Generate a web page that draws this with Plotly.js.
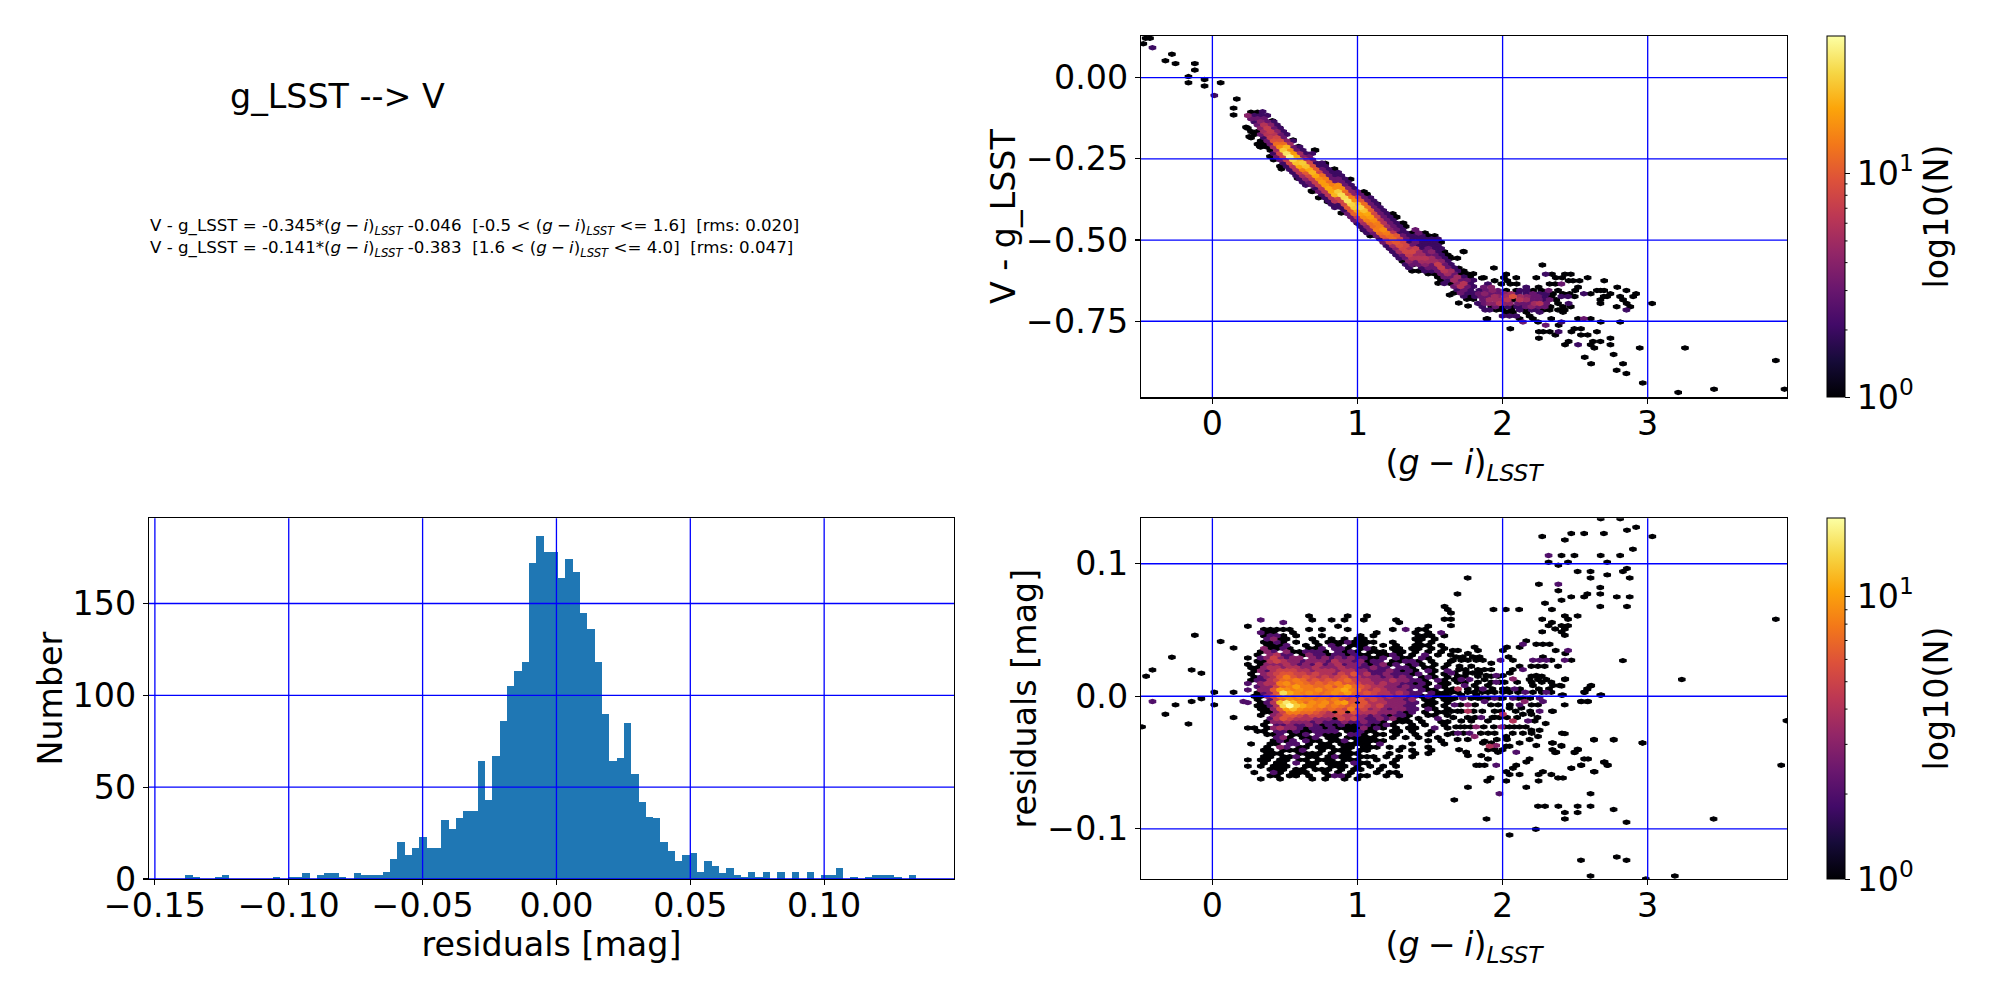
<!DOCTYPE html>
<html>
<head>
<meta charset="utf-8">
<script src="https://cdn.plot.ly/plotly-3.0.1.min.js"></script>
<style>html, body { margin: 0; background: #fff; }</style>
</head>
<body>
<div id="chart" style="width:2000px;height:1000px"></div>
<script>
// g_LSST --> V transformation: residual histogram and two hexbin panels

// residual histogram, 100 bins
const histStart = -0.1386;
const histWidth = 0.00273;
const histCounts = [2,1,0,0,1,2,0,0,0,0,0,0,1,0,1,1,3,0,2,3,3,1,0,3,2,2,2,4,11,20,13,17,23,17,17,32,27,33,37,37,64,43,67,86,105,113,118,172,187,178,178,164,174,167,145,136,118,90,64,66,85,57,42,34,33,20,15,10,13,14,4,10,7,3,6,2,1,4,1,4,0,4,0,4,0,4,0,2,2,6,0,1,0,1,2,2,2,1,0,2];
const histXTicks = [-0.15,-0.10,-0.05,0,0.05,0.10];
const histYTicks = [0,50,100,150];

// V - g_LSST panel: main band, one entry per hex column
const bandX = [0.244,0.266,0.289,0.311,0.333,0.355,0.378,0.40,0.422,0.444,0.466,0.488,0.511,0.533,0.555,0.577,0.60,0.622,0.644,0.666,0.688,0.71,0.733,0.755,0.777,0.80,0.822,0.844,0.866,0.888,0.91,0.932,0.955,0.977,0.999,1.02,1.044,1.066,1.088,1.11,1.132,1.154,1.177,1.199,1.221,1.243,1.266,1.288,1.31,1.332,1.354,1.376,1.399,1.421,1.443,1.465,1.488,1.51,1.532,1.554,1.576,1.598,1.621,1.643,1.665,1.688,1.71,1.732,1.754,1.776,1.798];
const bandY = [
[-0.117,-0.156],[-0.107,-0.127,-0.166,-0.185],[-0.117,-0.136,-0.175],[-0.107,-0.127,-0.146,-0.166,-0.205],
[-0.117,-0.136,-0.156,-0.175,-0.195,-0.214],[-0.127,-0.146,-0.166,-0.185,-0.205],[-0.117,-0.136,-0.156,-0.175,-0.195,-0.214],[-0.146,-0.166,-0.185,-0.205,-0.224],
[-0.136,-0.156,-0.175,-0.195,-0.214,-0.234,-0.253],[-0.146,-0.166,-0.185,-0.205,-0.224,-0.244],[-0.156,-0.175,-0.195,-0.214,-0.234,-0.253,-0.273],[-0.166,-0.185,-0.205,-0.224,-0.244,-0.263],
[-0.175,-0.195,-0.214,-0.234,-0.253,-0.273],[-0.205,-0.224,-0.244,-0.263,-0.283],[-0.195,-0.214,-0.234,-0.253,-0.273,-0.292],[-0.224,-0.244,-0.263,-0.283,-0.302],
[-0.214,-0.234,-0.253,-0.273,-0.292,-0.312],[-0.224,-0.244,-0.263,-0.283,-0.302,-0.322],[-0.234,-0.253,-0.273,-0.292,-0.312,-0.331],[-0.244,-0.263,-0.283,-0.302,-0.322],
[-0.234,-0.253,-0.273,-0.292,-0.312,-0.331,-0.351],[-0.224,-0.263,-0.283,-0.302,-0.322,-0.341],[-0.273,-0.292,-0.312,-0.331,-0.351,-0.37],[-0.263,-0.283,-0.302,-0.322,-0.341,-0.361],
[-0.273,-0.292,-0.312,-0.331,-0.351,-0.37],[-0.283,-0.302,-0.322,-0.341,-0.361,-0.38],[-0.292,-0.312,-0.331,-0.351,-0.37,-0.39],[-0.302,-0.322,-0.341,-0.361,-0.38,-0.40],
[-0.292,-0.312,-0.331,-0.351,-0.37,-0.39],[-0.302,-0.322,-0.341,-0.361,-0.38,-0.40],[-0.312,-0.331,-0.351,-0.37,-0.39,-0.409],[-0.322,-0.341,-0.361,-0.38,-0.40,-0.419],
[-0.331,-0.351,-0.37,-0.39,-0.409,-0.429],[-0.341,-0.361,-0.38,-0.40,-0.419,-0.439],[-0.351,-0.37,-0.39,-0.409,-0.429,-0.448],[-0.361,-0.38,-0.40,-0.419,-0.439,-0.458],
[-0.351,-0.37,-0.39,-0.409,-0.429,-0.448,-0.468],[-0.361,-0.38,-0.40,-0.419,-0.439,-0.458,-0.478],[-0.37,-0.39,-0.409,-0.429,-0.448,-0.468,-0.487],[-0.38,-0.40,-0.419,-0.439,-0.458,-0.478],
[-0.39,-0.409,-0.429,-0.448,-0.468,-0.487],[-0.40,-0.419,-0.439,-0.458,-0.478,-0.497],[-0.409,-0.429,-0.448,-0.468,-0.487,-0.507],[-0.419,-0.439,-0.458,-0.478,-0.497,-0.517],
[-0.429,-0.448,-0.468,-0.487,-0.507,-0.526],[-0.419,-0.439,-0.458,-0.478,-0.497,-0.517,-0.536],[-0.429,-0.448,-0.468,-0.487,-0.507,-0.526,-0.546],[-0.458,-0.478,-0.497,-0.517,-0.536,-0.556],
[-0.448,-0.468,-0.487,-0.507,-0.526,-0.546,-0.565],[-0.458,-0.478,-0.497,-0.517,-0.536,-0.556,-0.575],[-0.487,-0.507,-0.526,-0.546,-0.565,-0.585],[-0.478,-0.497,-0.517,-0.536,-0.556,-0.575,-0.595],
[-0.468,-0.487,-0.507,-0.526,-0.546,-0.565],[-0.478,-0.497,-0.517,-0.536,-0.556,-0.575,-0.595],[-0.487,-0.507,-0.526,-0.546,-0.565,-0.585],[-0.478,-0.497,-0.517,-0.536,-0.556,-0.575,-0.595],
[-0.487,-0.507,-0.526,-0.546,-0.565,-0.585,-0.604],[-0.497,-0.517,-0.536,-0.556,-0.575,-0.595],[-0.487,-0.507,-0.526,-0.546,-0.565,-0.585,-0.604],[-0.497,-0.517,-0.536,-0.556,-0.575,-0.595,-0.614],
[-0.507,-0.526,-0.546,-0.565,-0.585,-0.604,-0.624],[-0.536,-0.556,-0.575,-0.595,-0.614,-0.634],[-0.546,-0.565,-0.585,-0.604,-0.624],[-0.556,-0.575,-0.595,-0.614,-0.634],
[-0.585,-0.604,-0.624,-0.643,-0.663],[-0.556,-0.595,-0.614,-0.634,-0.653],[-0.604,-0.624,-0.643,-0.663],[-0.536,-0.595,-0.614,-0.634,-0.653,-0.673],
[-0.604,-0.624,-0.643,-0.663,-0.682],[-0.614,-0.634,-0.653,-0.673],[-0.604,-0.624,-0.643,-0.663,-0.682]];
const bandN = [
[4,1],[1,3,1,1],[2,2,1],[1,3,3,1,1],
[2,4,4,3,1,1],[3,6,5,2,1],[2,3,7,6,3,1],[4,7,7,3,1],
[2,3,6,9,5,2,1],[2,4,8,12,5,3],[2,3,9,16,8,3,1],[2,3,12,26,8,2],
[2,4,22,32,7,2],[5,16,38,8,2],[2,3,18,28,6,2],[3,20,24,6,2],
[2,5,22,20,6,2],[2,4,26,14,5,2],[2,6,24,10,4,2],[3,8,20,8,3],
[2,3,9,22,7,3,1],[1,2,10,20,7,2],[2,8,16,7,3,1],[2,3,12,18,6,2],
[2,3,14,18,6,2],[2,3,12,20,6,2],[2,3,14,20,6,2],[2,3,16,22,6,2],
[2,3,16,26,8,2],[2,3,16,30,8,2],[2,3,12,30,8,2],[2,4,10,32,10,3],
[2,4,14,28,10,3],[2,4,16,26,11,3],[3,8,24,20,7,2],[3,10,28,18,6,2],
[1,3,12,24,16,5,2],[1,3,12,20,14,4,2],[2,3,10,18,12,4,1],[2,3,8,16,12,3],
[2,3,8,14,14,3],[2,3,6,14,12,2],[2,3,6,16,10,3],[2,3,5,14,8,2],
[2,3,4,12,8,2],[1,2,3,6,12,5,2],[1,2,3,10,10,4,2],[2,2,8,9,5,2],
[1,2,3,8,8,3,1],[1,2,3,8,8,3,2],[2,2,6,7,4,2],[1,2,3,8,6,3,1],
[3,2,3,7,5,3],[3,2,2,5,6,3,1],[2,2,2,5,5,2],[1,2,2,3,6,4,2],
[1,2,3,3,5,3,1],[2,2,4,5,3,2],[1,2,2,3,5,3,1],[2,2,2,3,7,3,1],
[1,2,2,4,7,3,1],[1,2,3,6,3,2],[1,2,3,5,2],[1,2,5,3,1],
[2,3,5,3,1],[1,2,5,4,2],[1,3,6,3],[1,1,2,6,3,2],
[1,3,3,2,1],[1,2,2,1],[1,2,2,2,1]];

// V - g_LSST panel: fan at the red end, one entry per hex row
const fanY = [-0.577,-0.586,-0.605,-0.616,-0.625,-0.635,-0.645,-0.655,-0.665,-0.674,-0.684,-0.695,-0.705,-0.715,-0.722,-0.734,-0.742,-0.752,-0.762,-0.773,-0.782,-0.792,-0.802,-0.812,-0.822,-0.832,-0.852,-0.861,-0.871,-0.881,-0.901,-0.911,-0.94,-0.959,-0.969];
const fanX = [
[2.274],[1.94],[2.025,2.297,2.34,2.43,2.47],[1.871,2.009,2.094,2.232,2.366,2.41,2.586],[1.945,2.032,2.455,2.485,2.53,2.70],
[1.899,1.991,2.053,2.097,2.324,2.363,2.405],[1.871,1.922,2.163,2.248,2.52,2.79],[1.968,2.025,2.094,2.267,2.317,2.382,2.5,2.65,2.676,2.70,2.853,1.84,1.885,1.93,2.12,2.165,2.21],
[1.876,1.922,2.014,2.163,2.209,2.347,2.416,2.462,2.56,2.607,2.743,2.92,1.835,1.97,2.06,2.11,2.255,2.3],[1.853,1.899,1.968,2.025,2.071,2.244,2.29,2.338,2.405,2.451,2.497,2.697,2.72,2.81,2.9,1.81,1.945,2.12,2.165,2.21],
[1.91,1.955,2.07,2.117,2.163,2.209,2.324,2.674,2.83,1.865,2.0,2.035,2.25,2.29,2.37],[1.876,1.945,2.014,2.106,2.186,2.255,2.301,2.382,2.455,2.674,2.855,3.03,1.83,1.91,1.98,2.05,2.15,2.22],
[1.922,1.991,2.071,2.129,2.198,2.29,2.416,2.47,2.786,2.88,1.86,1.95,2.035,2.1,2.16,2.25,2.33],[1.91,1.956,2.06,2.117,2.232,2.324,2.382,2.428,2.853,1.88,2.0,2.16,2.2,2.28],[2.025,2.071,2.163,2.255,2.416],
[2.0,2.048,2.094,2.186],[1.895,2.117,2.209,2.335,2.52,2.56,2.607],[2.14,2.244,2.405,2.676,2.81],[2.297,2.386],[2.053,2.495,2.54],
[2.25,2.28,2.325,2.386,2.474,2.65],[2.363,2.54,2.586],[2.25,2.743],[2.455,2.623,2.674],[2.43,2.52,2.607,2.743],[2.632,2.945,3.257],
[2.765],[2.566],[3.883],[2.61,2.83],[2.786],[2.853],[2.966],[3.457,3.943],[3.21]];
const fanN = [
[1],[1],[1,2,1,1,1],[1,1,1,1,1,1,1],[1,1,1,1,1,1],
[2,1,1,1,1,1,3],[3,4,2,1,1,1],[3,1,1,1,3,1,1,1,1,1,1,2,3,4,2,2,1],
[4,3,4,2,3,1,1,1,2,1,1,1,3,3,5,2,2,2],[3,3,4,5,9,3,2,1,2,2,1,1,1,1,1,2,5,5,4,3],
[5,5,1,6,5,3,3,1,1,3,5,6,3,2,1],[3,4,4,3,3,6,3,1,2,1,1,1,2,4,6,4,3,5],
[1,1,1,2,4,3,1,1,1,1,2,3,2,2,3,3,1],[2,1,1,2,2,1,1,1,2,2,1,1,2,1],[1,1,1,2,1],
[2,2,2,1],[1,1,1,1,1,3,1],[3,1,2,1,1],[3,1],[1,1,1],
[1,1,1,2,1,1],[1,1,1],[1,1],[1,1,1],[1,2,1,1],[1,1,1],
[1],[1],[1],[1,1],[1],[1],[1],[1,1],[1]];

// V - g_LSST panel: blue-end stragglers and the loose hexes along both edges of the band
const strayX = [-0.476,-0.46,-0.43,-0.413,-0.324,-0.279,-0.254,-0.121,-0.121,-0.165,-0.165,-0.054,-0.054,0.057,0.013,0.168,0.146,0.146,0.232,0.254,0.327,0.397,0.476,0.587,0.683,0.794,0.889,1.0,1.041,1.127,1.222,1.27,1.381,1.476,1.556,1.635,1.698,1.762,1.889,0.346,0.413,0.46,0.556,0.594,0.705,0.778,0.841,0.952,1.063,1.137,1.206,1.27,1.317,1.381,1.467,1.524,1.635,1.73,1.698,1.857];
const strayY = [0.104,0.121,0.121,0.092,0.052,0.072,0.043,0.043,0.023,0.003,-0.016,-0.006,-0.026,-0.016,-0.055,-0.066,-0.094,-0.115,-0.153,-0.182,-0.212,-0.243,-0.281,-0.31,-0.349,-0.382,-0.417,-0.448,-0.469,-0.487,-0.525,-0.545,-0.576,-0.597,-0.633,-0.669,-0.694,-0.703,-0.743,-0.105,-0.133,-0.154,-0.192,-0.212,-0.223,-0.264,-0.281,-0.313,-0.358,-0.389,-0.42,-0.43,-0.448,-0.489,-0.497,-0.52,-0.551,-0.535,-0.587,-0.617];
const strayN = [1,1,1,2,1,1,1,1,1,1,1,1,1,1,2,1,1,1,1,1,1,1,1,1,1,1,1,1,1,1,1,1,1,1,1,1,1,1,1,2,1,1,1,1,1,1,1,1,1,1,1,1,1,1,1,1,1,1,1,1];

// residuals panel: main body, one entry per hex row, counts per cell (0 = empty)
const bodyY = [0.0606,0.0576,0.0556,0.0528,0.0504,0.048,0.0456,0.0432,0.0408,0.0384,0.036,0.0336,0.0312,0.0288,0.0264,0.024,0.0216,0.0192,0.0168,0.0144,0.012,0.0096,0.0072,0.0048,0.0024,0,-0.0024,-0.0048,-0.0072,-0.0096,-0.012,-0.0144,-0.0168,-0.0192,-0.0216,-0.024,-0.0264,-0.0288,-0.0312,-0.0336,-0.036,-0.0384,-0.0408,-0.0432,-0.0456,-0.048,-0.0504,-0.0528,-0.0552,-0.0576,-0.06,-0.0624];
const bodyX0 = [0.222,0.2,0.222,0.2,0.222,0.2,0.222,0.2,0.222,0.2,0.222,0.2,0.222,0.2,0.222,0.2,0.222,0.2,0.222,0.2,0.222,0.2,0.222,0.2,0.222,0.2,0.222,0.2,0.222,0.2,0.222,0.2,0.222,0.2,0.222,0.2,0.222,0.2,0.222,0.2,0.222,0.2,0.222,0.2,0.222,0.2,0.222,0.2,0.222,0.2,0.222,0.2];
const bodyN = [
[0,0,0,0,0,0,0,0,0,0,1,0,0,0,0,0,1,0,0,1],
[0,0,0,2,0,0,0,0,0,0,0,1,0,0,1,0,1,0,0,1,0,0,0,0,1],
[0,0,0,0,0,0,2,0,0,0,0,0,0,0,0,0,0,0,0,0,0,0,0,0,1],
[0,1,0,0,0,0,0,0,0,0,0,0,0,0,0,1,0,0,0,0,0,0,0,0,0,0,0,0,0,1],
[0,0,0,1,1,1,1,1,0,0,1,0,1,0,0,0,1,0,0,0,0,0,0,1,0,2,0,1,1],
[0,0,0,2,1,1,0,0,1,0,0,0,0,0,0,0,0,0,0,0,0,1,0,0,0,0,0,1,0,1,0,2],
[0,0,0,1,2,2,1,0,1,0,0,0,1,0,0,0,0,0,1,0,1,0,0,0,0,0,0,1,1,1,0,1],
[0,0,0,0,2,3,1,1,0,0,0,1,0,0,1,0,1,0,1,1,0,0,0,0,0,0,0,1,1,0,1],
[0,0,0,1,1,2,1,0,1,0,0,1,0,1,1,1,2,1,1,1,1,0,0,1,0,0,0,1,0,1],
[0,0,0,0,1,1,1,2,0,0,1,0,1,0,2,1,0,1,1,1,0,0,1,0,1,0,0,1,1,1,0,1],
[0,0,0,3,1,1,2,1,0,0,1,1,2,0,2,2,1,0,1,2,1,0,0,1,1,0,1,1,0,1,0,1],
[0,0,0,1,3,2,0,3,1,1,2,2,2,1,0,2,1,2,1,0,1,1,1,0,1,1,0,1,0,1,0,1],
[0,0,1,0,3,4,2,2,0,1,3,2,2,1,2,2,1,2,1,1,0,1,1,2,1,0,1,0,2,0,1,0,1],
[0,1,0,2,3,5,3,2,3,3,0,3,2,3,2,3,2,3,2,2,1,1,2,0,2,1,1,0,2,1,0,0,0],
[0,0,1,1,4,5,4,3,3,2,3,3,3,2,4,3,3,2,3,1,2,2,0,1,1,2,2,1,0,1,0,0,1],
[0,1,0,1,3,3,3,4,3,2,3,2,4,2,3,4,2,3,3,2,1,2,3,1,2,0,1,2,1,0,1,0,1],
[0,1,1,3,4,4,3,4,4,3,3,4,3,3,3,4,3,3,2,2,3,2,2,0,2,2,1,0,1,1,0,1,0],
[0,0,1,3,2,4,5,5,5,4,4,3,4,4,4,3,4,4,3,3,2,2,2,3,2,1,2,1,0,2,1,0,2],
[0,1,0,3,4,5,6,6,5,5,4,5,4,4,3,5,4,6,3,4,2,2,3,2,2,2,1,2,0,1,0,1,0],
[0,0,1,2,3,4,6,8,6,5,6,5,4,5,4,5,6,4,4,3,3,3,2,3,2,3,2,0,1,2,1,0,1],
[0,1,2,2,4,5,7,7,8,7,5,6,5,6,5,6,7,5,4,4,3,3,3,4,3,3,2,2,1,0,2,1,0],
[0,2,0,3,4,4,8,9,7,8,7,6,7,6,7,8,6,6,5,4,4,3,4,3,3,2,2,1,2,1,0,1,1],
[0,0,2,3,3,5,7,8,10,8,8,7,7,8,6,8,10,7,6,5,4,4,3,3,2,3,2,2,1,0,2,1,0],
[0,2,0,3,3,6,10,9,8,9,8,8,9,7,8,9,11,8,7,5,4,5,4,3,3,3,2,0,2,1,1,0,1],
[0,0,1,2,3,6,15,11,9,8,9,8,7,8,9,8,10,7,5,6,5,4,4,3,4,3,2,2,0,2,1,1,0],
[0,0,1,1,3,5,8,9,8,9,7,8,7,8,6,7,6,5,1,5,5,4,3,4,3,3,2,2,1,2,1,1,1],
[0,0,1,0,2,5,7,9,8,8,8,7,8,7,8,6,5,6,6,4,5,4,3,3,3,2,3,0,1,1,0,1,1],
[0,2,0,1,2,4,12,16,12,9,7,9,8,9,7,9,10,6,1,6,4,4,4,3,3,3,2,2,0,1,1,0,1],
[0,0,1,1,2,4,14,19,13,11,9,8,9,7,8,7,6,7,6,5,4,5,3,3,3,2,2,0,1,1,0,1,0],
[0,0,0,1,1,3,6,10,12,9,8,8,7,6,7,6,5,8,4,5,3,4,3,2,3,3,2,2,0,2,1,0,1],
[0,0,0,1,1,3,5,8,8,7,7,6,5,4,1,6,1,6,4,4,4,3,3,3,2,1,2,0,1,0,1,1,0],
[0,0,0,1,0,3,4,6,6,5,4,5,5,4,4,5,4,4,3,3,2,3,2,1,2,2,1,0,0,1,1,0,1],
[0,0,0,0,2,4,6,5,4,4,4,3,3,3,1,5,4,5,3,2,2,3,2,3,1,1,0,1,0,0,2,0,0],
[0,0,0,0,1,3,3,4,3,3,3,2,3,2,2,2,3,2,2,3,2,2,1,0,1,1,1,0,1,0,0,1,1],
[0,0,0,1,0,2,2,3,2,2,3,2,1,2,1,2,1,1,2,2,1,1,2,1,0,0,1,0,1,0,0,1,0],
[0,1,1,0,1,3,4,3,3,2,1,2,2,1,2,1,1,1,1,3,1,2,1,0,1,0,1,1,0,0,2,0,1],
[0,0,1,1,0,2,2,1,2,1,1,2,2,2,2,0,1,1,2,1,1,0,0,1,1,0,1,0,0,1,0,0,0],
[0,0,0,0,1,1,2,0,1,1,2,0,2,1,1,1,0,2,2,1,0,1,1,0,1,0,0,1,0,1,0,0,1],
[0,0,0,0,0,2,3,1,0,1,1,2,0,1,1,0,1,1,1,1,1,0,0,1,0,1,0,1,0,0,1,0,0],
[0,0,0,0,0,1,2,1,2,0,2,1,1,0,1,1,2,0,1,1,1,1,1,0,0,0,0,0,0,1,0,1],
[0,1,0,0,1,1,0,2,2,0,1,0,1,1,0,1,1,1,1,1,0,2,0,0,0,0,1,0,0,0,0,1],
[0,0,0,0,1,0,3,2,0,1,1,0,1,1,1,0,1,1,0,1,1,1,0,1,0,1,0,0,0,1],
[0,0,0,1,1,0,1,1,1,2,0,0,1,0,1,1,1,0,1,1,0,0,0,0,1,0,1,0,0,1],
[0,0,0,0,1,1,1,0,0,1,1,1,1,0,1,0,1,1,1,0,0,0,0,1,0,0,0,1,0,1],
[0,0,0,1,1,0,1,1,2,0,1,1,0,1,2,1,1,0,1,1,1,0,1,0,1,0,1],
[0,1,0,1,1,0,1,1,0,1,1,0,1,1,1,0,1,1,1,0,0,1,0,0,1],
[0,0,0,1,0,1,1,0,2,0,1,1,0,1,1,1,0,2,1,1,0,0,0,1],
[0,1,0,1,0,1,1,1,0,0,1,1,0,0,1,1,1,0,1,0,1,0,1,0,1],
[0,0,0,0,1,1,1,0,1,1,0,1,1,1,0,1,0,1,1,0,0,1],
[0,0,1,0,0,2,1,0,1,1,1,0,0,1,0,1,0,1,0,0,0,1,0,1,1],
[0,0,0,0,1,1,0,1,1,0,1,0,0,1,2,2,1,0,1,1,0,0,1,0,1],
[0,0,0,1,0,0,1,0,0,0,0,1,0,1,0,0,1,0,1]];

// residuals panel: hexes between g-i 1.65 and 3 around the zero line
const midX = [2.232,2.278,2.324,2.163,2.14,
1.83,1.692,1.807,1.657,2.002,2.03,2.117,2.366,2.451,2.432,
1.761,1.68,1.726,1.795,1.841,2.041,2.278,2.071,1.986,
1.657,1.715,1.761,1.818,1.864,1.922,2.209,2.255,2.301,2.336,2.428,2.474,
1.703,1.784,1.922,2.117,2.198,2.244,2.29,2.382,2.14,
1.646,1.692,1.749,1.795,1.887,1.922,1.956,2.002,2.198,2.232,
1.669,1.715,1.772,1.876,1.956,1.922,2.014,2.071,2.186,2.244,2.301,2.336,2.432,
1.692,1.738,1.807,1.864,1.899,2.002,2.083,2.156,2.209,2.301,2.347,2.393,2.611,2.584,2.566,
1.646,1.807,1.899,1.945,2.002,2.048,2.106,2.209,2.336,1.715,1.818,
1.726,1.784,1.853,1.945,2.002,2.071,2.14,2.255,2.416,2.68,
1.669,1.761,1.876,2.152,2.117,2.278,2.244,2.543,2.589,2.428,
1.646,1.761,1.715,1.945,2.048,2.129,2.255,2.347,2.002,1.945,2.14,2.198,
1.715,1.853,1.979,1.899,2.071,2.175,2.221,2.048,2.297,1.784,
1.68,1.818,1.738,2.014,2.117,1.991,2.255,2.198,
1.692,1.772,1.807,1.945,2.025,2.409,2.244,2.186,2.117,1.876,
1.922,1.956,1.91,1.864,2.232,2.048,2.347,2.405,2.63,2.766,2.963,2.52,2.497,2.343,2.37,
2.094,1.945,1.749,1.761,1.853,1.968,1.899,2.025,
2.186,2.163,2.589,2.543,2.474,2.703,2.726,2.634,1.956,1.841,1.818,1.876,
2.094,2.071,2.117,2.025,2.048,
2.278,2.248,2.336,2.382,2.416,2.248,2.025,1.917,1.894,1.761,2.163];
const midY = [0.0392,0.0392,0.0392,0.0418,0.0392,
0.0345,0.0345,0.037,0.0345,0.0345,0.037,0.037,0.0345,0.0345,0.0322,
0.0322,0.0297,0.0297,0.0297,0.0297,0.0297,0.0297,0.0272,0.0272,
0.0272,0.0272,0.0272,0.0272,0.0272,0.0249,0.0272,0.0272,0.0272,0.0272,0.0272,0.0272,
0.0226,0.0226,0.0201,0.0226,0.0226,0.0226,0.0226,0.0226,0.0201,
0.0176,0.0151,0.0176,0.0176,0.0156,0.0151,0.0156,0.0156,0.0151,0.0156,
0.0126,0.0126,0.0126,0.0126,0.0106,0.0106,0.0106,0.0131,0.0126,0.0126,0.0126,0.0106,0.0131,
0.0055,0.0081,0.0081,0.0055,0.0081,0.0055,0.0055,0.003,0.0081,0.003,0.0081,0.0081,0.0081,0.0055,0.003,
0.003,0.003,0.003,0.003,0.003,0.003,0.003,0.003,0.003,0.001,0.001,
-0.0015,-0.0015,-0.0015,-0.0015,-0.0015,-0.0015,-0.0015,-0.0015,0.001,0.001,
-0.0065,-0.0065,-0.004,-0.004,-0.0065,-0.004,-0.0065,-0.004,-0.004,-0.0065,
-0.0113,-0.0113,-0.0113,-0.0113,-0.0088,-0.0088,-0.0113,-0.0113,-0.0136,-0.0158,-0.0136,-0.0136,
-0.0186,-0.0161,-0.0161,-0.0186,-0.0186,-0.0186,-0.0186,-0.0231,-0.0206,-0.0186,
-0.0231,-0.0231,-0.0231,-0.0231,-0.0231,-0.0231,-0.0257,-0.0257,
-0.0279,-0.0279,-0.0304,-0.0279,-0.0304,-0.0279,-0.0304,-0.0327,-0.0352,-0.034,
-0.0352,-0.0372,-0.0377,-0.0352,-0.0372,-0.0377,-0.0352,-0.0372,-0.0327,-0.0327,-0.0352,-0.0403,-0.0423,-0.0403,-0.0423,
-0.0423,-0.0403,-0.0423,-0.0448,-0.0448,-0.0423,-0.0473,-0.0377,
-0.0473,-0.0496,-0.0473,-0.0521,-0.0543,-0.0496,-0.0521,-0.0569,-0.0521,-0.0521,-0.0521,-0.0521,
-0.0521,-0.0543,-0.0591,-0.0569,-0.0591,
-0.0569,-0.0591,-0.0591,-0.0616,-0.0616,-0.0639,-0.0639,-0.0616,-0.0639,-0.0687,-0.0687];
const midN = [1,1,1,1,2,
1,1,1,1,1,1,1,1,2,1,
1,1,1,1,1,1,1,1,2,
1,1,1,1,1,1,2,2,2,1,2,1,
1,1,1,1,1,1,1,1,2,
2,1,1,1,1,1,2,1,1,1,
1,2,2,1,2,1,1,3,1,1,1,1,1,
4,2,1,2,1,1,2,2,1,2,1,1,1,1,1,
1,1,1,1,1,1,1,1,1,1,1,
2,1,1,2,1,2,1,2,1,1,
2,3,2,3,2,2,1,1,1,1,
1,4,1,1,1,1,2,1,4,1,1,1,
1,2,1,1,4,2,1,1,1,1,
1,3,1,1,1,3,1,1,
2,2,3,1,1,1,1,1,1,1,
1,3,4,1,1,1,1,1,1,1,1,1,1,1,1,
2,1,1,1,1,1,1,1,
1,1,1,1,1,1,1,1,2,1,1,1,
1,1,1,1,1,
1,1,1,1,1,1,1,1,1,1,1];

// residuals panel: single-count hexes filling the same region, one entry per hex row
const sparseY = [0.0201,0.0176,0.0151,0.0106,0.0055,0.003,-0.0015,-0.0065,-0.0113,-0.0161,-0.0231,-0.0279,-0.0327,-0.0403];
const sparseX = [
[1.70,1.745,1.83,1.875,2.07],[1.67,1.84,2.05],[1.74,1.83,1.97,2.27],[1.69,1.74,1.83,1.98,2.1,2.2,2.27],
[1.66,1.76,1.83,1.93,2.03,2.12,2.25,2.32],[1.69,1.76,1.86,2.27],[1.67,1.83,1.9,1.98,2.11,2.19],[1.71,1.81,1.92,1.97,2.05,2.2],
[1.69,1.8,1.86,1.99,2.09,2.19],[1.66,1.76,1.81,1.93,2.03,2.1,2.24],[1.71,1.78,1.87,1.94,2.08,2.16],[1.66,1.73,1.85,1.9,2.07,2.14,2.2],
[1.69,1.76,1.96,2.03],[1.7,1.9,2.0]];

// residuals panel: everything further out
const outX = [2.92,2.676,2.81,2.273,2.429,2.473,2.562,2.698,2.857,3.032,2.898,2.317,2.406,2.495,2.676,2.81,2.317,2.451,2.384,2.721,2.517,2.606,2.829,2.857,2.606,2.721,2.876,1.759,1.689,2.25,2.384,2.384,2.673,2.406,2.473,2.562,2.584,2.673,2.787,2.876,2.292,2.673,2.857,2.34,1.937,2.022,2.114,1.6,1.622,1.644,2.517,2.429,2.451,2.273,2.34,2.406,2.451,2.317,2.362,2.429,2.273,2.406,2.429,1.644,1.6,1.644,3.883,2.829,3.235,-0.121,0.057,0.146,-0.279,-0.413,-0.457,-0.143,-0.076,0.013,0.146,-0.413,-0.254,-0.143,-0.076,0.013,-0.324,-0.165,0.146,-0.485,0.213,1.667,1.889,2.048,2.229,1.978,2.244,2.292,2.384,2.517,2.606,2.429,2.517,2.429,2.765,2.854,3.454,2.606,2.54,2.787,2.854,2.606,3.187,2.987,3.92,3.956,2.965,2.629,2.765,2.562,2.54,2.473,2.629,2.698,2.721,2.517,2.495,2.406,2.34,2.362,2.429,2.34,2.54,2.584,2.562,2.584,2.606,2.673,2.406,2.429,2.406];
const outY = [0.1275,0.134,0.134,0.1205,0.118,0.1228,0.1228,0.1228,0.1253,0.1205,0.111,0.1062,0.1062,0.1062,0.1062,0.1062,0.1011,0.1011,0.0989,0.1011,0.0941,0.0941,0.0941,0.0964,0.0893,0.0916,0.0893,0.0893,0.0772,0.0845,0.0845,0.0797,0.082,0.0725,0.075,0.075,0.0772,0.0772,0.075,0.075,0.0702,0.0677,0.0677,0.0654,0.0654,0.0654,0.0654,0.0677,0.0654,0.0629,0.0606,0.0606,0.0581,0.0581,0.0556,0.0533,0.0533,0.0533,0.0508,0.0508,0.0486,0.0486,0.046,0.0533,0.0581,0.0581,0.0581,0.0269,0.0126,0.046,0.0413,0.0365,0.0294,0.0199,0.0151,0.0199,0.0174,0.003,0.003,-0.004,-0.0065,-0.004,-0.0018,-0.0065,-0.0136,-0.0209,-0.0161,-0.0231,-0.004,-0.0782,-0.0926,-0.1047,-0.1004,-0.0735,-0.083,-0.083,-0.083,-0.083,-0.083,-0.0878,-0.0878,-0.0926,-0.0855,-0.0951,-0.0926,-0.0735,-0.1238,-0.1213,-0.1238,-0.1356,-0.1356,-0.1379,-0.0521,-0.0184,-0.0352,-0.033,-0.033,-0.0473,-0.0521,-0.0543,-0.0569,-0.0498,-0.0521,-0.04,-0.0425,-0.0377,-0.0352,-0.0425,-0.0282,-0.0113,-0.004,-0.004,0.003,0.0055,0.0078,0.0008,0.0008,0.0126,0.0078];
const outN = [1,1,1,1,1,1,1,1,1,1,1,2,1,1,1,1,1,1,1,1,1,1,1,1,1,1,1,1,1,1,2,1,1,1,1,1,1,1,1,1,1,1,1,1,1,1,1,1,1,1,1,1,1,1,1,1,1,1,1,1,1,1,1,1,1,1,1,1,1,1,1,1,1,1,1,1,1,1,1,2,1,1,1,1,1,1,1,1,2,1,1,1,1,2,1,1,1,1,1,1,1,1,1,1,1,1,1,1,1,1,1,1,1,1,1,1,1,1,1,1,1,1,1,1,1,1,1,1,1,1,1,1,1,1,1,1,1,1,1];

const panelXTicks = [0,1,2,3];
const topYTicks = [0,-0.25,-0.5,-0.75];
const resYTicks = [0.1,0,-0.1];
const cbMajorVals = [0,1];
const cbMajorText = ['10<sup>0</sup>','10<sup>1</sup>'];
const cbMinorVals = [0.301,0.477,0.602,0.699,0.778,0.845,0.903,0.954];

const inferno = [[0,'#000004'],[0.1,'#160b39'],[0.2,'#420a68'],[0.3,'#6a176e'],[0.4,'#932667'],[0.5,'#bc3754'],[0.6,'#dd513a'],[0.7,'#f37819'],[0.8,'#fca50a'],[0.9,'#f6d746'],[1,'#fcffa4']];

const FONT = 'DejaVu Sans, sans-serif';
const BIG = 33.3;
const GI = '(<i>g\u2005−\u2005i</i>)<sub><i>LSST</i></sub>';
const BLUE = '#0000ff';
const CB_LEFT = 1826.5, CB_WIDTH = 18;

function inLog(t) {
    const i = Math.min(Math.floor(t * 10), 9);
    const f = t * 10 - i;
    const a = inferno[i][1], b = inferno[i + 1][1];
    const ch = k => Math.round(parseInt(a.substr(k, 2), 16) * (1 - f) + parseInt(b.substr(k, 2), 16) * f);
    return `rgb(${ch(1)},${ch(3)},${ch(5)})`;
}

// matplotlib hexes are stretched with the axes, so draw them as filled polygons, one trace per count
function hexTraces(cells, sx, sy, logMax, xa, ya, top, bottom) {
    const levels = {};
    cells.forEach(c => { (levels[c.n] = levels[c.n] || []).push(c); });
    const traces = Object.keys(levels).map(Number).sort((a, b) => a - b).map(n => {
        const xs = [], ys = [];
        levels[n].forEach(c => {
            xs.push(c.x - sx / 2, c.x - sx / 2, c.x, c.x + sx / 2, c.x + sx / 2, c.x, c.x - sx / 2, null);
            ys.push(c.y - sy / 6, c.y + sy / 6, c.y + sy / 3, c.y + sy / 6, c.y - sy / 6, c.y - sy / 3, c.y - sy / 6, null);
        });
        const col = inLog(Math.min(Math.log10(n) / logMax, 1));
        return { x: xs, y: ys, xaxis: xa, yaxis: ya, mode: 'lines', fill: 'toself', fillcolor: col,
                 line: { color: col, width: 1.2 }, hoverinfo: 'skip', showlegend: false };
    });
    // invisible markers carry the colorbar
    traces.push({
        x: cells.map(c => c.x), y: cells.map(c => c.y), xaxis: xa, yaxis: ya, mode: 'markers', showlegend: false, hoverinfo: 'skip',
        marker: {
            size: 1, opacity: 0, color: cells.map(c => Math.log10(c.n)), colorscale: inferno, cmin: 0, cmax: logMax, showscale: true,
            colorbar: {
                x: CB_LEFT / 2000, xanchor: 'left', xpad: 0, y: 1 - bottom / 1000, yanchor: 'bottom', ypad: 0, len: (bottom - top) / 1000, thickness: CB_WIDTH,
                outlinewidth: 1, outlinecolor: '#000', ticks: 'outside', ticklen: 5, tickwidth: 1, tickcolor: '#000',
                tickmode: 'array', tickvals: cbMajorVals, ticktext: cbMajorText, tickfont: { family: FONT, size: BIG, color: '#000' }
            }
        }
    });
    return traces;
}

// colorbars have no minor ticks of their own
function minorTicks(logMax, top, bottom) {
    const right = (CB_LEFT + CB_WIDTH) / 2000;
    return cbMinorVals.map(v => {
        const y = (1000 - bottom + (bottom - top) * v / logMax) / 1000;
        return { type: 'line', layer: 'above', xref: 'paper', yref: 'paper', x0: right, x1: right + 3 / 2000, y0: y, y1: y, line: { color: '#000', width: 1 } };
    });
}

const topCells = [];
bandX.forEach((x, i) => bandY[i].forEach((y, j) => topCells.push({ x, y, n: bandN[i][j] })));
fanY.forEach((y, i) => fanX[i].forEach((x, j) => topCells.push({ x, y, n: fanN[i][j] })));
strayX.forEach((x, i) => topCells.push({ x, y: strayY[i], n: strayN[i] }));

const resCells = [];
bodyY.forEach((y, i) => bodyN[i].forEach((n, j) => { if (n > 0) resCells.push({ x: bodyX0[i] + j * 0.0444, y, n }); }));
sparseY.forEach((y, i) => sparseX[i].forEach(x => resCells.push({ x, y, n: 1 })));
midX.forEach((x, i) => resCells.push({ x, y: midY[i], n: midN[i] }));
outX.forEach((x, i) => resCells.push({ x, y: outY[i], n: outN[i] }));

const traces = [{
    type: 'bar', x0: histStart + histWidth / 2, dx: histWidth, y: histCounts, width: histWidth,
    marker: { color: '#1f77b4', line: { width: 0 } }, xaxis: 'x', yaxis: 'y', hoverinfo: 'x+y', showlegend: false
}].concat(
    hexTraces(topCells, 0.0444, 0.0195, 1.615, 'x2', 'y2', 36, 397.3),
    hexTraces(resCells, 0.0444, 0.00477, 1.278, 'x3', 'y3', 518.3, 879)
);

function axis(extra) {
    return Object.assign({
        showline: true, mirror: true, linecolor: '#000', linewidth: 1.2, showgrid: false, zeroline: false,
        ticks: 'outside', ticklen: 5, tickwidth: 1.2, tickcolor: '#000', tickmode: 'array',
        tickfont: { family: FONT, size: BIG, color: '#000' }
    }, extra);
}
function axisTitle(text, standoff) {
    return { text, standoff, font: { family: FONT, size: BIG, color: '#000' } };
}

// blue grid sits above the marks in the reference, so it goes in as shapes
function gridShapes(xa, ya, xTicks, yTicks) {
    const line = { color: BLUE, width: 1.3 };
    return xTicks.map(v => ({ type: 'line', layer: 'above', xref: xa, yref: ya + ' domain', x0: v, x1: v, y0: 0, y1: 1, line }))
        .concat(yTicks.map(v => ({ type: 'line', layer: 'above', xref: xa + ' domain', yref: ya, x0: 0, x1: 1, y0: v, y1: v, line })));
}

const dom = (a, b) => [a / 2000, b / 2000];
const domY = (top, bottom) => [1 - bottom / 1000, 1 - top / 1000];
const note = (x, y, text, size, extra) => Object.assign({ xref: 'paper', yref: 'paper', x: x / 2000, y: 1 - y / 1000, xanchor: 'left', yanchor: 'middle', showarrow: false, text, font: { family: FONT, size, color: '#000' } }, extra);

const eqLines = [
    `V - g_LSST = -0.345*${GI} -0.046\u00a0\u00a0[-0.5 &lt; ${GI} &lt;= 1.6]\u00a0\u00a0[rms: 0.020]`,
    `V - g_LSST = -0.141*${GI} -0.383\u00a0\u00a0[1.6 &lt; ${GI} &lt;= 4.0]\u00a0\u00a0[rms: 0.047]`
];

const layout = {
    width: 2000, height: 1000, margin: { l: 0, r: 0, t: 0, b: 0 }, paper_bgcolor: '#fff', plot_bgcolor: '#fff',
    font: { family: FONT, color: '#000' }, bargap: 0, hovermode: 'closest', showlegend: false,
    xaxis: axis({ domain: dom(149, 954), range: [-0.1522, 0.1485], anchor: 'y', tickvals: histXTicks, tickformat: '.2f', ticklabelstandoff: -8, title: axisTitle('residuals [mag]', 4) }),
    yaxis: axis({ domain: domY(518.3, 879), range: [0, 196.4], anchor: 'x', tickvals: histYTicks, title: axisTitle('Number', 0) }),
    xaxis2: axis({ domain: dom(1141, 1787), range: [-0.492, 3.96], anchor: 'y2', tickvals: panelXTicks, ticklabelstandoff: -8, title: axisTitle(GI, 4) }),
    yaxis2: axis({ domain: domY(36, 397.3), range: [-0.984, 0.128], anchor: 'x2', tickvals: topYTicks, tickformat: '.2f', title: axisTitle('V - g_LSST', 0) }),
    xaxis3: axis({ domain: dom(1141, 1787), range: [-0.492, 3.96], anchor: 'y3', tickvals: panelXTicks, ticklabelstandoff: -8, title: axisTitle(GI, 4) }),
    yaxis3: axis({ domain: domY(518.3, 879), range: [-0.1379, 0.1343], anchor: 'x3', tickvals: resYTicks, tickformat: '.1f', title: axisTitle('residuals [mag]', 0) }),
    shapes: [].concat(
        gridShapes('x', 'y', histXTicks, histYTicks),
        gridShapes('x2', 'y2', panelXTicks, topYTicks),
        gridShapes('x3', 'y3', panelXTicks, resYTicks),
        minorTicks(1.615, 36, 397.3),
        minorTicks(1.278, 518.3, 879)
    ),
    annotations: [
        note(228, 97, 'g_LSST --&gt; V', BIG),
        note(148, 227, eqLines[0], 16.67),
        note(148, 249, eqLines[1], 16.67),
        note(1937, 216.6, 'log10(N)', BIG, { xanchor: 'center', textangle: -90 }),
        note(1937, 698.6, 'log10(N)', BIG, { xanchor: 'center', textangle: -90 })
    ]
};

Plotly.newPlot('chart', traces, layout, { displayModeBar: false, staticPlot: true });
</script>
</body>
</html>
